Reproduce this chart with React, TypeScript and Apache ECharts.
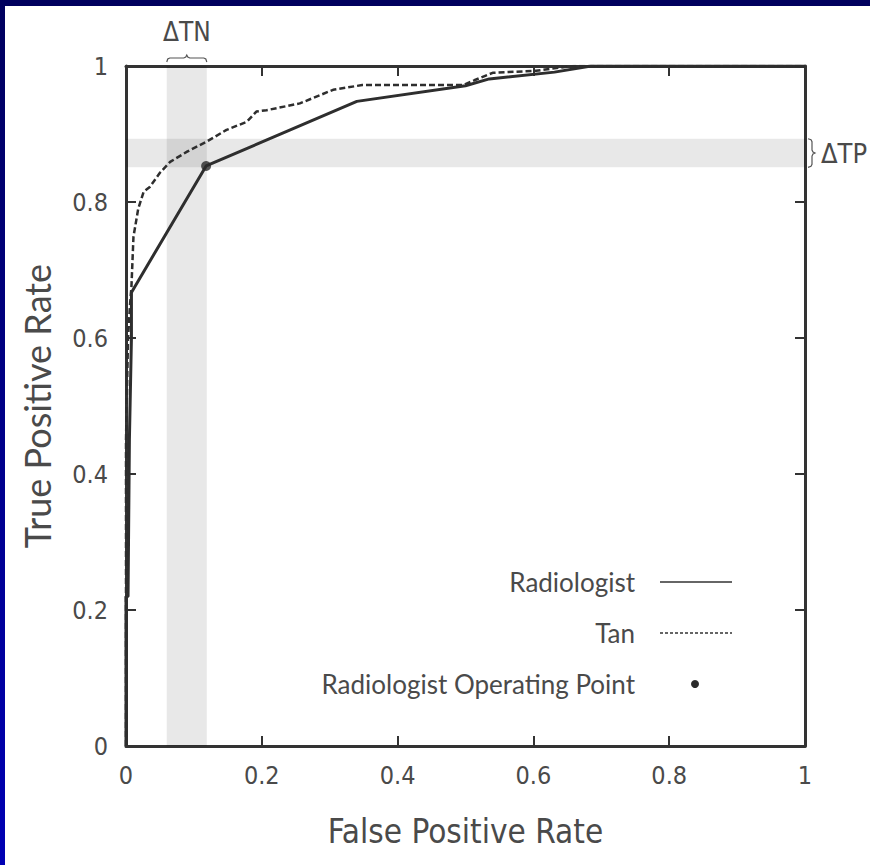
import React, { useEffect, useRef } from "react";
import * as echarts from "echarts";

// ---- Data ----
const radiologistFPR = [0, 0, 0.003, 0.005, 0.008, 0.008, 0.118, 0.34, 0.5, 0.535, 0.631, 0.685, 1];
const radiologistTPR = [0, 0.22, 0.22, 0.45, 0.6, 0.667, 0.853, 0.948, 0.971, 0.981, 0.991, 1, 1];

const tanFPR = [0, 0, 0.003, 0.006, 0.008, 0.011, 0.018, 0.026, 0.035, 0.05, 0.065, 0.09, 0.119, 0.148, 0.178, 0.192, 0.207, 0.256, 0.305, 0.348, 0.497, 0.513, 0.54, 0.604, 0.626, 0.66, 1];
const tanTPR = [0, 0.45, 0.6, 0.65, 0.675, 0.749, 0.79, 0.815, 0.822, 0.843, 0.859, 0.874, 0.889, 0.906, 0.918, 0.933, 0.935, 0.945, 0.965, 0.972, 0.972, 0.979, 0.99, 0.993, 0.996, 1, 1];

const operatingPoint = [0.118, 0.853];
const bandTN = [0.06, 0.119]; // False-positive-rate band
const bandTP = [0.851, 0.893]; // True-positive-rate band

const seriesNames = ["Radiologist", "Tan", "Radiologist Operating Point"];
const xTitle = "False Positive Rate";
const yTitle = "True Positive Rate";
const tnLabel = "\u0394TN";
const tpLabel = "\u0394TP";

const AXIS_COLOR = "#333333";
const TEXT_COLOR = "#4a4a4a";
const TICK_FONT = "'Liberation Sans Narrow', 'DejaVu Sans Condensed', Lato, sans-serif";
const TITLE_FONT = "Lato, 'Open Sans', sans-serif";

export default function App() {
  const ref = useRef<HTMLDivElement | null>(null);

  useEffect(() => {
    if (!ref.current) return;
    const chart = echarts.init(ref.current, undefined, { renderer: "svg" });

    const pairs = (xs: number[], ys: number[]) => xs.map((x, i) => [x, ys[i]]);

    const baseAxis = {
      type: "value" as const,
      min: 0,
      max: 1,
      interval: 0.2,
      splitLine: { show: false },
      axisLine: { show: true, onZero: false, lineStyle: { color: AXIS_COLOR, width: 3 } },
      axisTick: { show: true, inside: true, length: 10, lineStyle: { color: AXIS_COLOR, width: 2 } },
    };

    chart.setOption({
      animation: false,
      backgroundColor: "#ffffff",
      grid: { left: 126, right: 65, top: 66, bottom: 119, containLabel: false },
      xAxis: [
        {
          ...baseAxis,
          position: "bottom",
          name: xTitle,
          nameLocation: "middle",
          nameGap: 69,
          nameTextStyle: { fontFamily: TICK_FONT, fontSize: 33, color: TEXT_COLOR },
          axisLabel: { margin: 17, fontFamily: TICK_FONT, fontSize: 25, color: TEXT_COLOR },
        },
        {
          ...baseAxis,
          position: "top",
          axisLabel: { show: false },
        },
      ],
      yAxis: [
        {
          ...baseAxis,
          position: "left",
          name: yTitle,
          nameLocation: "middle",
          nameRotate: 90,
          nameGap: 71,
          nameTextStyle: { fontFamily: TITLE_FONT, fontSize: 36, color: TEXT_COLOR },
          axisLabel: { margin: 18, fontFamily: TICK_FONT, fontSize: 25, color: TEXT_COLOR },
        },
        {
          ...baseAxis,
          position: "right",
          axisLabel: { show: false },
        },
      ],
      series: [
        {
          name: "bands",
          type: "line",
          data: [],
          silent: true,
          z: 1,
          markArea: {
            silent: true,
            itemStyle: { color: "rgba(0,0,0,0.09)" },
            data: [
              [{ xAxis: bandTN[0] }, { xAxis: bandTN[1] }],
              [{ yAxis: bandTP[0] }, { yAxis: bandTP[1] }],
            ],
          },
        },
        {
          name: seriesNames[0],
          type: "line",
          data: pairs(radiologistFPR, radiologistTPR),
          showSymbol: false,
          symbol: "none",
          z: 3,
          lineStyle: { color: "#2e2e2e", width: 3 },
        },
        {
          name: seriesNames[1],
          type: "line",
          data: pairs(tanFPR, tanTPR),
          showSymbol: false,
          symbol: "none",
          z: 3,
          lineStyle: { color: "#2e2e2e", width: 2.5, type: [6, 3] },
        },
        {
          name: seriesNames[2],
          type: "scatter",
          data: [operatingPoint],
          symbolSize: 10,
          z: 4,
          itemStyle: { color: "#2a2a2a" },
        },
      ],
    });

    // annotations derived from the axes' scales
    const px = (x: number, y: number) => chart.convertToPixel({ gridIndex: 0 }, [x, y]) as number[];
    const tnL = px(bandTN[0], 1);
    const tnR = px(bandTN[1], 1);
    const tpT = px(1, bandTP[1]);
    const tpB = px(1, bandTP[0]);
    const topY = tnL[1];
    const xm = (tnL[0] + tnR[0]) / 2;
    const yb = topY - 4;
    const hBrace = [
      [tnL[0], yb], [tnL[0] + 1, yb - 3], [tnL[0] + 3, yb - 4], [xm - 3, yb - 4], [xm - 1, yb - 5], [xm, yb - 7],
      [xm + 1, yb - 5], [xm + 3, yb - 4], [tnR[0] - 3, yb - 4], [tnR[0] - 1, yb - 3], [tnR[0], yb],
    ];
    const x0 = tpT[0] + 3;
    const ym = (tpT[1] + tpB[1]) / 2;
    const vBrace = [
      [x0, tpT[1]], [x0 + 3, tpT[1] + 1], [x0 + 4, tpT[1] + 3], [x0 + 4, ym - 3], [x0 + 5, ym - 1], [x0 + 7, ym],
      [x0 + 5, ym + 1], [x0 + 4, ym + 3], [x0 + 4, tpB[1] - 3], [x0 + 3, tpB[1] - 1], [x0, tpB[1]],
    ];

    const legendRight = 635;
    const legendY = [582, 633, 684];
    const legendFont = { fontFamily: TITLE_FONT, fontSize: 26, fill: TEXT_COLOR };

    chart.setOption({
      graphic: [
        // frame of the slide
        { type: "rect", shape: { x: 0, y: 0, width: 870, height: 6 }, style: { fill: "#00005e" }, z: 100 },
        {
          type: "rect",
          shape: { x: 0, y: 0, width: 5, height: 865 },
          style: {
            fill: new echarts.graphic.LinearGradient(0, 0, 0, 1, [
              { offset: 0, color: "#00005e" },
              { offset: 1, color: "#0000b4" },
            ]),
          },
          z: 100,
        },
        { type: "polyline", shape: { points: hBrace }, style: { stroke: "#555", lineWidth: 1.2, fill: null }, z: 10 },
        {
          type: "text",
          x: xm,
          y: topY - 34,
          style: { text: tnLabel, align: "center", verticalAlign: "middle", fontFamily: TICK_FONT, fontSize: 26, fill: TEXT_COLOR },
          z: 10,
        },
        { type: "polyline", shape: { points: vBrace }, style: { stroke: "#555", lineWidth: 1.2, fill: null }, z: 10 },
        {
          type: "text",
          x: x0 + 13,
          y: ym,
          style: { text: tpLabel, align: "left", verticalAlign: "middle", fontFamily: TICK_FONT, fontSize: 27, fill: TEXT_COLOR },
          z: 10,
        },
        // legend
        ...seriesNames.map((n, i) => ({
          type: "text",
          x: legendRight,
          y: legendY[i],
          style: { text: n, align: "right", verticalAlign: "middle", ...legendFont },
          z: 10,
        })),
        { type: "line", shape: { x1: 660, y1: legendY[0], x2: 732, y2: legendY[0] }, style: { stroke: "#333", lineWidth: 1.3 }, z: 10 },
        { type: "line", shape: { x1: 660, y1: legendY[1], x2: 732, y2: legendY[1] }, style: { stroke: "#333", lineWidth: 1.3, lineDash: [3, 2] }, z: 10 },
        { type: "circle", shape: { cx: 695, cy: legendY[2], r: 4 }, style: { fill: "#2a2a2a" }, z: 10 },
      ],
    });

    return () => chart.dispose();
  }, []);

  return (
    <div
      ref={ref}
      style={{ position: "fixed", left: 0, top: 0, width: 870, height: 865, background: "#fff" }}
    />
  );
}
